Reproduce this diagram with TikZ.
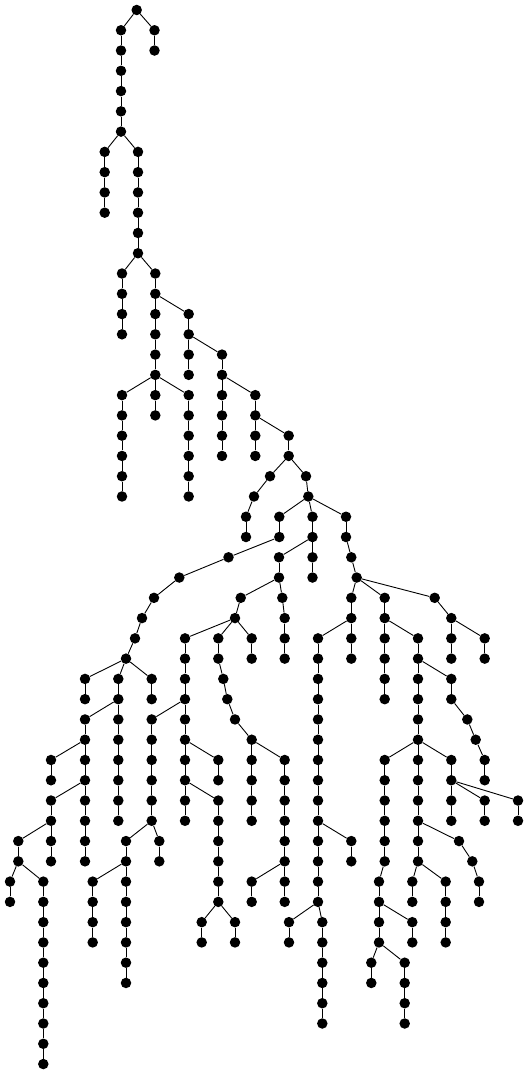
\documentclass[tikz,border=0pt]{standalone}
\tikzset{dot/.style={circle,fill=black,inner sep=0pt,minimum size=10.5pt},
  edge/.style={line width=0.9pt}}
\newcommand\mkchain[4]{%
  \foreach \mkr in {#3,...,#4} {\node[dot] (#1-\mkr) at (#2,\mkr) {};}%
  \ifnum#3<#4\relax
    \pgfmathtruncatemacro\mkst{#3+1}%
    \foreach \mkr [remember=\mkr as \mkp (initially #3)] in {\mkst,...,#4} {\draw[edge] (#1-\mkp) -- (#1-\mkr);}%
  \fi}
\newcommand\mkedge[2]{\draw[edge] (#1) -- (#2);}
\begin{document}
\begin{tikzpicture}[x=1pt,y=-20.27pt]
\useasboundingbox (0,0) rectangle (528,52.985);
\begin{scope}[yshift=-10pt]
\mkchain{a}{136.7}{0}{0}
\mkchain{b}{154.5}{1}{2}
\mkchain{c}{121}{1}{6}
\mkchain{d}{104.7}{7}{10}
\mkchain{e}{138}{7}{12}
\mkchain{f}{122}{13}{16}
\mkchain{g}{155.3}{13}{18}
\mkchain{h}{188.7}{15}{18}
\mkchain{i}{122}{19}{24}
\mkchain{j}{155.3}{19}{20}
\mkchain{k}{188.7}{19}{24}
\mkchain{l}{222}{17}{22}
\mkchain{m}{255.3}{19}{22}
\mkchain{n}{288.7}{21}{22}
\mkchain{oa}{270}{23}{23}
\mkchain{ob}{254}{24}{24}
\mkchain{p}{246}{25}{26}
\mkchain{q}{306}{23}{23}
\mkchain{r}{308.3}{24}{24}
\mkchain{s}{279.3}{25}{26}
\mkchain{t}{312.5}{25}{28}
\mkchain{u}{346}{25}{26}
\mkchain{va}{228.5}{27}{27}
\mkchain{vb}{179.3}{28}{28}
\mkchain{vc}{154}{29}{29}
\mkchain{vd}{142}{30}{30}
\mkchain{ve}{135}{31}{31}
\mkchain{vf}{126}{32}{32}
\mkchain{y}{279}{27}{28}
\mkchain{za}{240.7}{29}{29}
\mkchain{zb}{235}{30}{30}
\mkchain{ab}{282.3}{29}{29}
\mkchain{ac}{284.7}{30}{32}
\mkchain{BA}{185}{31}{40}
\mkchain{BB}{218.3}{31}{32}
\mkchain{sa}{223.3}{33}{33}
\mkchain{sb}{227.3}{34}{34}
\mkchain{sc}{235}{35}{35}
\mkchain{BC}{251.7}{31}{32}
\mkchain{BD}{251.7}{36}{40}
\mkchain{BE}{284.7}{37}{44}
\mkchain{BF}{251.7}{43}{44}
\mkchain{BG}{151.7}{35}{40}
\mkchain{BH}{218.3}{37}{38}
\mkchain{BI}{218.3}{39}{44}
\mkchain{BJ}{201.7}{45}{46}
\mkchain{BK}{235}{45}{46}
\mkchain{BL}{126}{41}{48}
\mkchain{BM}{159.3}{41}{42}
\mkchain{BN}{92.7}{43}{46}
\mkchain{CA}{85}{33}{34}
\mkchain{CB}{118.3}{33}{40}
\mkchain{CC}{151.7}{33}{34}
\mkchain{CD}{85}{35}{42}
\mkchain{CE}{51}{37}{38}
\mkchain{CF}{51}{39}{42}
\mkchain{CG}{18.3}{41}{42}
\mkchain{CH}{10}{43}{44}
\mkchain{CI}{43.3}{43}{52}
\mkchain{Da}{351.3}{27}{27}
\mkchain{Db}{356.7}{28}{28}
\mkchain{DA}{351.3}{29}{32}
\mkchain{DB}{384.7}{29}{34}
\mkchain{DC}{434.7}{29}{29}
\mkchain{DD}{318}{31}{44}
\mkchain{DE}{351.3}{41}{42}
\mkchain{DF}{289}{45}{46}
\mkchain{DG}{322.3}{45}{50}
\mkchain{DH}{418}{31}{42}
\mkchain{DI}{451.3}{33}{34}
\mkchain{Dc}{467.3}{35}{35}
\mkchain{Dd}{475.7}{36}{36}
\mkchain{DJ}{484.7}{37}{38}
\mkchain{DK}{384.7}{37}{42}
\mkchain{DL}{451.3}{37}{40}
\mkchain{DM}{379}{43}{46}
\mkchain{DN}{412.3}{45}{46}
\mkchain{DO}{371.3}{47}{48}
\mkchain{DP}{404.7}{47}{50}
\mkchain{DQ}{484.7}{39}{40}
\mkchain{DR}{518}{39}{40}
\mkchain{De}{459}{41}{41}
\mkchain{Df}{472.3}{42}{42}
\mkchain{DS}{479}{43}{44}
\mkchain{DT}{412.3}{43}{44}
\mkchain{DU}{445.7}{43}{46}
\mkchain{DV}{451.3}{30}{32}
\mkchain{DW}{484.7}{31}{32}
% branch edges
\mkedge{a-0}{b-1}\mkedge{a-0}{c-1}\mkedge{c-6}{d-7}\mkedge{c-6}{e-7}
\mkedge{e-12}{f-13}\mkedge{e-12}{g-13}\mkedge{g-14}{h-15}
\mkedge{g-18}{i-19}\mkedge{g-18}{j-19}\mkedge{g-18}{k-19}
\mkedge{h-16}{l-17}\mkedge{l-18}{m-19}\mkedge{m-20}{n-21}
\mkedge{n-22}{oa-23}\mkedge{oa-23}{ob-24}\mkedge{ob-24}{p-25}
\mkedge{n-22}{q-23}\mkedge{q-23}{r-24}
\mkedge{r-24}{s-25}\mkedge{r-24}{t-25}\mkedge{r-24}{u-25}
\mkedge{s-26}{va-27}\mkedge{va-27}{vb-28}\mkedge{vb-28}{vc-29}
\mkedge{vc-29}{vd-30}\mkedge{vd-30}{ve-31}\mkedge{ve-31}{vf-32}
\mkedge{t-26}{y-27}\mkedge{y-28}{za-29}\mkedge{za-29}{zb-30}
\mkedge{y-28}{ab-29}\mkedge{ab-29}{ac-30}
\mkedge{zb-30}{BA-31}\mkedge{zb-30}{BB-31}\mkedge{zb-30}{BC-31}
\mkedge{BB-32}{sa-33}\mkedge{sa-33}{sb-34}\mkedge{sb-34}{sc-35}
\mkedge{sc-35}{BD-36}\mkedge{BD-36}{BE-37}\mkedge{BE-42}{BF-43}
\mkedge{BA-34}{BG-35}\mkedge{BA-36}{BH-37}\mkedge{BA-38}{BI-39}
\mkedge{BI-44}{BJ-45}\mkedge{BI-44}{BK-45}
\mkedge{BG-40}{BL-41}\mkedge{BG-40}{BM-41}\mkedge{BL-42}{BN-43}
\mkedge{vf-32}{CA-33}\mkedge{vf-32}{CB-33}\mkedge{vf-32}{CC-33}
\mkedge{CB-34}{CD-35}\mkedge{CD-36}{CE-37}\mkedge{CD-38}{CF-39}
\mkedge{CF-40}{CG-41}\mkedge{CG-42}{CH-43}\mkedge{CG-42}{CI-43}
\mkedge{u-26}{Da-27}\mkedge{Da-27}{Db-28}
\mkedge{Db-28}{DA-29}\mkedge{Db-28}{DB-29}\mkedge{Db-28}{DC-29}
\mkedge{DA-30}{DD-31}\mkedge{DD-40}{DE-41}
\mkedge{DD-44}{DF-45}\mkedge{DD-44}{DG-45}
\mkedge{DB-30}{DH-31}\mkedge{DH-32}{DI-33}\mkedge{DI-34}{Dc-35}
\mkedge{Dc-35}{Dd-36}\mkedge{Dd-36}{DJ-37}
\mkedge{DH-36}{DK-37}\mkedge{DH-36}{DL-37}
\mkedge{DK-42}{DM-43}\mkedge{DM-44}{DN-45}
\mkedge{DM-46}{DO-47}\mkedge{DM-46}{DP-47}
\mkedge{DL-38}{DQ-39}\mkedge{DL-38}{DR-39}
\mkedge{DH-40}{De-41}\mkedge{De-41}{Df-42}\mkedge{Df-42}{DS-43}
\mkedge{DH-42}{DT-43}\mkedge{DH-42}{DU-43}
\mkedge{DC-29}{DV-30}\mkedge{DV-30}{DW-31}
\end{scope}
\end{tikzpicture}
\end{document}
